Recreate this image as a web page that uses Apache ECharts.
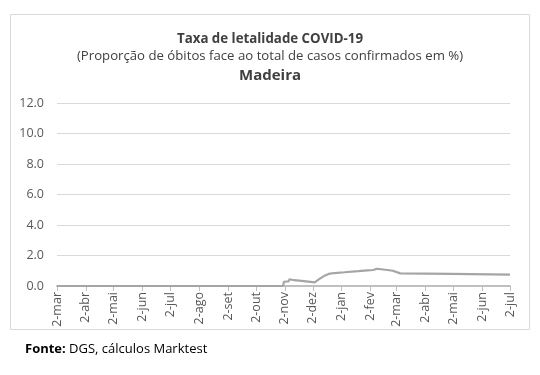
<!DOCTYPE html>
<html><head><meta charset="utf-8">
<script src="https://cdn.jsdelivr.net/npm/echarts@6/dist/echarts.min.js"></script>
<style>html,body{margin:0;padding:0;background:#fff}#c{width:540px;height:375px}</style>
</head><body><div id="c"></div>
<script>
var titleText = 'Taxa de letalidade COVID-19';
var subtitleText = '(Proporção de óbitos face ao total de casos confirmados em %)';
var regionText = 'Madeira';
var monthNames = ['jan','fev','mar','abr','mai','jun','jul','ago','set','out','nov','dez'];
var tickDates = ['2020-03-02','2020-04-02','2020-05-02','2020-06-02','2020-07-02','2020-08-02','2020-09-02','2020-10-02','2020-11-02','2020-12-02','2021-01-02','2021-02-02','2021-03-02','2021-04-02','2021-05-02','2021-06-02','2021-07-02'];
var yTicks = [0, 2, 4, 6, 8, 10, 12];
var dates = ['2020-03-02','2020-10-31','2020-11-01','2020-11-06','2020-11-07','2020-11-12','2020-11-20','2020-12-04','2020-12-06','2020-12-10','2020-12-14','2020-12-19','2020-12-25','2021-01-05','2021-01-20','2021-01-30','2021-02-05','2021-02-09','2021-02-20','2021-02-26','2021-03-06','2021-04-30','2021-05-01','2021-07-02'];
var values = [0, 0, 0.28, 0.3, 0.44, 0.38, 0.33, 0.24, 0.24, 0.5, 0.65, 0.79, 0.85, 0.9, 0.97, 1.03, 1.05, 1.13, 1.05, 1.0, 0.83, 0.8, 0.74, 0.74];

function ts(s){ var p = s.split('-'); return Date.UTC(+p[0], +p[1]-1, +p[2]) / 86400000; }
var tickTs = tickDates.map(ts);
var seriesData = dates.map(function(d,i){ return [ts(d), values[i]]; });

var chart = echarts.init(document.getElementById('c'), null, {renderer:'canvas'});
var font = '"Open Sans", "Noto Sans", sans-serif';
chart.setOption({
  animation: false,
  grid: {left: 57, right: 30, top: 103, bottom: 89, containLabel: false},
  title: [
    {text: titleText, left: 'center', top: 28, textStyle: {fontFamily: font, fontSize: 13.3, fontWeight: 'bold', color: '#404040'}},
    {text: subtitleText, left: 'center', top: 45, textStyle: {fontFamily: font, fontSize: 13.2, fontWeight: 'normal', color: '#404040'}},
    {text: regionText, left: 'center', top: 63, textStyle: {fontFamily: font, fontSize: 15, fontWeight: 'bold', color: '#404040'}}
  ],
  graphic: [
    {type: 'rect', shape: {x: 10.5, y: 14.5, width: 519, height: 315}, style: {fill: 'none', stroke: '#d9d9d9', lineWidth: 1}, z: -1},
    {type: 'text', left: 25, top: 343, style: {rich: {b: {fontWeight: 'bold', fontSize: 13, fontFamily: font, fill: '#000'}, n: {fontSize: 13, fontFamily: font, fill: '#000'}}, text: '{b|Fonte:} {n|DGS, cálculos Marktest}'}}
  ],
  xAxis: {
    type: 'value',
    min: tickTs[0], max: tickTs[tickTs.length-1],
    axisLine: {show: true, onZero: true, lineStyle: {color: '#bfbfbf', width: 2}},
    axisTick: {show: true, customValues: tickTs, length: 5, lineStyle: {color: '#bfbfbf'}},
    axisLabel: {
      customValues: tickTs, rotate: 90, color: '#595959', fontSize: 12.5, fontFamily: font, margin: 6,
      formatter: function(v){ var d = new Date(Math.round(v) * 86400000); return d.getUTCDate() + '-' + monthNames[d.getUTCMonth()]; }
    },
    splitLine: {show: false}
  },
  yAxis: {
    type: 'value', min: yTicks[0], max: yTicks[yTicks.length-1], interval: 2,
    axisLine: {show: false}, axisTick: {show: false},
    axisLabel: {color: '#595959', fontSize: 12.5, fontFamily: font, margin: 13, formatter: function(v){ return v.toFixed(1); }},
    splitLine: {lineStyle: {color: '#d9d9d9', width: 1}}
  },
  series: [{
    type: 'line', data: seriesData, showSymbol: false, symbol: 'none',
    lineStyle: {color: '#a5a5a5', width: 2.2}, z: 3
  }]
});
</script></body></html>
